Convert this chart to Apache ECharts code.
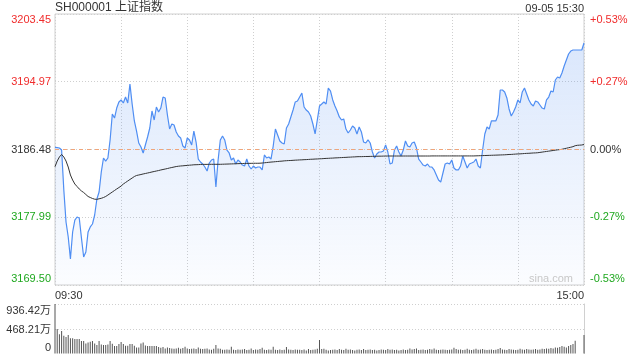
<!DOCTYPE html>
<html>
<head>
<meta charset="utf-8">
<script src="https://cdn.jsdelivr.net/npm/echarts@6/dist/echarts.min.js"></script>
<style>
html,body{margin:0;padding:0;background:#fff;}
#chart{width:640px;height:360px;}
</style>
</head>
<body>
<div id="chart"></div>
<script>
var FONT = '"Liberation Sans", Arial, "Noto Sans CJK SC", sans-serif';
var RED = '#f02c2c', GREEN = '#1fa81f', DARK = '#333';

var prevClose = 3186.48;
var priceMin = 3169.50, priceMax = 3203.45;
var priceTicks = ['3169.50','3177.99','3186.48','3194.97','3203.45'];
var pctTicks = ['-0.53%','-0.27%','0.00%','+0.27%','+0.53%'];
var volMax = 936.42;
var volTicks = ['0','468.21万','936.42万'];

// minute prices 09:30 .. 15:00 (241 points)
var prices = [
 3186.75,3186.72,3186.66,3186.41,3181.40,3177.39,3175.51,3172.76,3176.14,3177.64,
 3178.02,3177.89,3175.39,3173.01,3173.63,3176.14,3176.77,3177.14,3178.27,3180.27,
 3181.15,3183.66,3185.41,3185.03,3185.41,3187.67,3190.92,3190.42,3191.67,3192.43,
 3192.68,3192.30,3193.05,3192.30,3194.68,3192.17,3190.05,3188.79,3187.29,3186.79,
 3186.04,3187.04,3188.04,3189.17,3191.30,3190.17,3191.80,3191.17,3191.67,3193.05,
 3192.93,3190.80,3189.04,3189.67,3189.54,3188.67,3188.17,3187.92,3186.91,3186.66,
 3187.92,3187.67,3187.04,3188.79,3187.41,3185.28,3184.91,3184.66,3184.28,3183.78,
 3184.78,3185.16,3185.28,3181.78,3185.16,3187.67,3188.17,3187.67,3186.41,3186.04,
 3185.16,3185.41,3184.66,3185.16,3184.91,3184.53,3184.41,3185.28,3184.41,3184.03,
 3184.41,3184.16,3184.28,3184.28,3183.91,3185.79,3185.41,3185.54,3185.28,3186.91,
 3189.04,3188.29,3187.54,3187.29,3187.16,3189.17,3189.67,3190.55,3191.42,3192.43,
 3192.55,3193.05,3193.55,3191.80,3191.42,3191.17,3190.67,3189.67,3188.42,3190.17,
 3191.92,
 3192.17,3192.43,3192.17,3194.18,3193.80,3192.68,3191.92,3191.30,3190.55,
 3190.17,3190.30,3189.04,3188.54,3188.92,3189.42,3189.17,3188.42,3189.29,3188.67,
 3187.41,3187.29,3187.67,3187.29,3186.16,3185.41,3185.91,3186.16,3186.16,3186.29,
 3187.04,3186.16,3184.66,3184.78,3186.41,3186.91,3186.16,3185.66,3186.41,3187.54,
 3186.91,3186.79,3187.29,3187.41,3186.66,3185.28,3184.91,3184.53,3184.41,3184.66,
 3184.28,3184.28,3183.91,3183.28,3182.65,3182.40,3183.53,3184.66,3184.78,3184.66,
 3185.16,3184.16,3183.91,3183.91,3184.41,3185.66,3184.91,3184.16,3184.66,3184.78,
 3184.91,3185.28,3184.41,3184.16,3186.41,3188.42,3189.29,3189.04,3190.05,3190.05,
 3190.05,3190.80,3193.93,3193.93,3193.68,3192.93,3191.55,3190.67,3191.17,3191.80,
 3192.68,3192.30,3193.68,3194.18,3193.43,3192.68,3192.17,3191.92,3192.55,3192.43,
 3192.05,3191.67,3191.55,3192.68,3193.05,3193.80,3193.68,3195.18,3195.56,3195.43,
 3196.06,3196.94,3197.69,3198.44,3198.81,3198.94,3198.94,3198.94,3198.94,3198.94,
 3199.82
];

// average price line
var avgPrices = [
 3184.32,3185.03,3185.54,3185.85,3185.54,3185.03,3184.28,3183.28,3182.65,3182.15,
 3181.84,3181.53,3181.28,3181.09,3180.84,3180.59,3180.46,3180.34,3180.25,3180.23,
 3180.30,3180.36,3180.46,3180.59,3180.77,3180.96,3181.15,3181.34,3181.53,3181.71,
 3181.90,3182.15,3182.34,3182.53,3182.72,3182.90,3183.09,3183.22,3183.28,3183.34,
 3183.41,3183.47,3183.53,3183.59,3183.66,3183.72,3183.78,3183.84,3183.91,3183.97,
 3184.03,3184.09,3184.16,3184.22,3184.28,3184.34,3184.38,3184.41,3184.43,3184.46,
 3184.48,3184.51,3184.53,3184.56,3184.57,3184.58,3184.60,3184.61,3184.61,3184.61,
 3184.62,3184.62,3184.62,3184.62,3184.62,3184.62,3184.63,3184.64,3184.65,3184.66,
 3184.67,3184.68,3184.69,3184.70,3184.71,3184.72,3184.73,3184.73,3184.74,3184.74,
 3184.75,3184.75,3184.75,3184.76,3184.78,3184.81,3184.84,3184.87,3184.90,3184.92,
 3184.95,3184.97,3185.00,3185.02,3185.05,3185.07,3185.09,3185.10,3185.12,3185.14,
 3185.15,3185.17,3185.18,3185.20,3185.21,3185.23,3185.25,3185.26,3185.28,3185.29,
 3185.31,3185.32,3185.34,3185.36,3185.37,3185.39,3185.40,3185.42,3185.43,3185.45,
 3185.46,3185.48,3185.49,3185.51,3185.52,3185.54,3185.55,3185.57,3185.58,3185.58,
 3185.59,3185.60,3185.60,3185.61,3185.62,3185.62,3185.63,3185.64,3185.64,3185.65,
 3185.65,3185.66,3185.66,3185.66,3185.66,3185.66,3185.66,3185.66,3185.66,3185.66,
 3185.66,3185.66,3185.66,3185.66,3185.66,3185.66,3185.66,3185.66,3185.66,3185.66,
 3185.66,3185.67,3185.67,3185.67,3185.67,3185.67,3185.67,3185.67,3185.67,3185.67,
 3185.67,3185.67,3185.67,3185.67,3185.67,3185.67,3185.67,3185.67,3185.67,3185.67,
 3185.67,3185.68,3185.69,3185.70,3185.71,3185.72,3185.73,3185.74,3185.75,3185.76,
 3185.77,3185.78,3185.79,3185.80,3185.81,3185.83,3185.85,3185.86,3185.88,3185.90,
 3185.92,3185.93,3185.95,3185.97,3185.99,3186.00,3186.02,3186.04,3186.05,3186.07,
 3186.11,3186.15,3186.19,3186.23,3186.27,3186.31,3186.35,3186.39,3186.43,3186.46,
 3186.50,3186.57,3186.63,3186.70,3186.76,3186.83,3186.95,3187.00,3187.02,3187.04,
 3187.10
];

// volume, 万
var volumes = [
 936.42,465,363,427,338,312,350,287,287,274,
 274,274,236,236,191,210,223,236,191,159,
 236,172,159,159,172,236,185,140,140,178,
 218,178,147,147,178,178,147,115,115,191,
 210,153,140,140,140,140,140,121,108,121,
 96,115,102,96,89,96,108,89,102,127,
 96,83,89,96,83,115,89,83,89,96,
 76,70,89,159,96,89,70,70,76,70,
 127,70,64,76,70,76,83,64,70,96,
 64,76,70,83,108,70,64,76,70,127,
 70,64,76,64,70,121,76,70,64,76,
 70,70,64,76,57,83,64,70,76,89,
 255,83,89,70,57,64,70,76,64,83,
 70,64,89,70,76,64,57,70,76,64,
 83,64,70,76,64,70,57,64,76,70,
 64,83,70,76,64,70,57,64,76,64,
 70,96,76,83,96,64,70,76,64,70,
 83,76,96,70,64,70,76,70,64,70,
 76,108,83,70,76,64,70,89,70,64,
 76,89,70,76,83,70,64,70,76,64,
 70,83,102,76,70,64,83,76,70,64,
 70,89,76,70,83,76,70,76,83,70,
 76,89,83,96,89,102,96,115,108,121,
 140,127,115,140,159,178,242,0,0,0,
 350
];

var times = [];
function pad(n){ return n < 10 ? '0' + n : '' + n; }
for (var m = 9*60+30; m <= 11*60+30; m++) times.push(pad(Math.floor(m/60)) + ':' + pad(m%60));
for (var m2 = 13*60+1; m2 <= 15*60; m2++) times.push(pad(Math.floor(m2/60)) + ':' + pad(m2%60));

var priceStep = (priceMax - priceMin) / 4;
function tickIndex(v){ return Math.round((v - priceMin) / priceStep); }

var tickRich = {
    t0: {color: GREEN, fontSize: 11, fontFamily: FONT, padding: [0,0,13,0]},
    t1: {color: GREEN, fontSize: 11, fontFamily: FONT},
    t2: {color: DARK, fontSize: 11, fontFamily: FONT},
    t3: {color: RED, fontSize: 11, fontFamily: FONT},
    t4: {color: RED, fontSize: 11, fontFamily: FONT, padding: [12,0,0,0]}
};
var volRich = {
    v0: {color: DARK, fontSize: 11, fontFamily: FONT, padding: [0,0,12,0]},
    v1: {color: DARK, fontSize: 11, fontFamily: FONT, padding: [2,0,0,0]},
    v2: {color: DARK, fontSize: 11, fontFamily: FONT, padding: [14,0,0,0]}
};

var myChart = echarts.init(document.getElementById('chart'));
var option = {
    animation: false,
    textStyle: {fontFamily: FONT},
    title: [
        {text: 'SH000001 上证指数', left: 55, top: 2, padding: 0,
         textStyle: {fontSize: 12, fontWeight: 'normal', color: DARK, fontFamily: FONT}},
        {text: '09-05 15:30', right: 56, top: 3, padding: 0,
         textStyle: {fontSize: 11, fontWeight: 'normal', color: DARK, fontFamily: FONT}},
        {text: 'sina.com', right: 67, top: 273, padding: 0,
         textStyle: {fontSize: 11, fontWeight: 'normal', color: '#c8c8c8', fontFamily: FONT}}
    ],
    grid: [
        {left: 55, right: 56, top: 14, height: 271, show: true, borderColor: '#d0d0d0', borderWidth: 1, backgroundColor: 'transparent'},
        {left: 55, right: 56, top: 304, height: 49.5}
    ],
    xAxis: [
        {type: 'category', gridIndex: 0, data: times, boundaryGap: false,
         axisLine: {show: false}, axisTick: {show: false},
         axisLabel: {interval: function(i){ return i === 0 || i === times.length - 1; },
                     showMinLabel: true, showMaxLabel: true,
                     alignMinLabel: 'left', alignMaxLabel: 'right',
                     color: DARK, fontSize: 11, margin: 5, fontFamily: FONT},
         splitLine: {show: true, interval: function(i){ return i % 30 === 0; },
                     lineStyle: {color: '#cfcfcf', type: [1,2], width: 1}}},
        {type: 'category', gridIndex: 1, data: times, boundaryGap: false,
         axisLine: {show: false}, axisTick: {show: false}, axisLabel: {show: false},
         splitLine: {show: false}}
    ],
    yAxis: [
        {type: 'value', gridIndex: 0, min: priceMin, max: priceMax, interval: priceStep,
         axisLine: {show: false}, axisTick: {show: false},
         axisLabel: {margin: 4, formatter: function(v){
             var k = tickIndex(v); return '{t' + k + '|' + priceTicks[k] + '}'; }, rich: tickRich},
         splitLine: {lineStyle: {color: '#cfcfcf', type: [1,2], width: 1}}},
        {type: 'value', gridIndex: 0, position: 'right', min: priceMin, max: priceMax, interval: priceStep,
         axisLine: {show: false}, axisTick: {show: false},
         axisLabel: {margin: 6, formatter: function(v){
             var k = tickIndex(v); return '{t' + k + '|' + pctTicks[k] + '}'; }, rich: tickRich},
         splitLine: {show: false}},
        {type: 'value', gridIndex: 1, min: 0, max: volMax, interval: volMax / 2,
         axisLine: {show: false}, axisTick: {show: false},
         axisLabel: {margin: 4, formatter: function(v){
             var k = Math.round(v / (volMax / 2)); return '{v' + k + '|' + volTicks[k] + '}'; }, rich: volRich},
         splitLine: {show: true, showMinLine: false, lineStyle: {color: '#cfcfcf', type: [1,2], width: 1}}},
        {type: 'value', gridIndex: 1, position: 'right', min: 0, max: volMax,
         axisLine: {show: true, lineStyle: {color: '#d0d0d0', width: 1}},
         axisTick: {show: false}, axisLabel: {show: false}, splitLine: {show: false}}
    ],
    series: [
        {name: 'price', type: 'line', xAxisIndex: 0, yAxisIndex: 0, data: prices,
         symbol: 'none', lineStyle: {color: '#4f8ef3', width: 1.2},
         areaStyle: {origin: 'start', color: new echarts.graphic.LinearGradient(0, 0, 0, 1, [
             {offset: 0, color: 'rgba(80,140,240,0.30)'},
             {offset: 1, color: 'rgba(80,140,240,0.03)'}])},
         markLine: {silent: true, symbol: 'none', label: {show: false},
                    lineStyle: {color: '#f0a57a', type: [4,4], width: 1},
                    data: [{yAxis: prevClose}]},
         z: 3},
        {name: 'avg', type: 'line', xAxisIndex: 0, yAxisIndex: 0, data: avgPrices,
         symbol: 'none', lineStyle: {color: '#333', width: 1}, z: 4},
        {name: 'volume', type: 'bar', xAxisIndex: 1, yAxisIndex: 2, data: volumes,
         barWidth: 1, itemStyle: {color: '#555'}}
    ]
};
myChart.setOption(option);
</script>
</body>
</html>
